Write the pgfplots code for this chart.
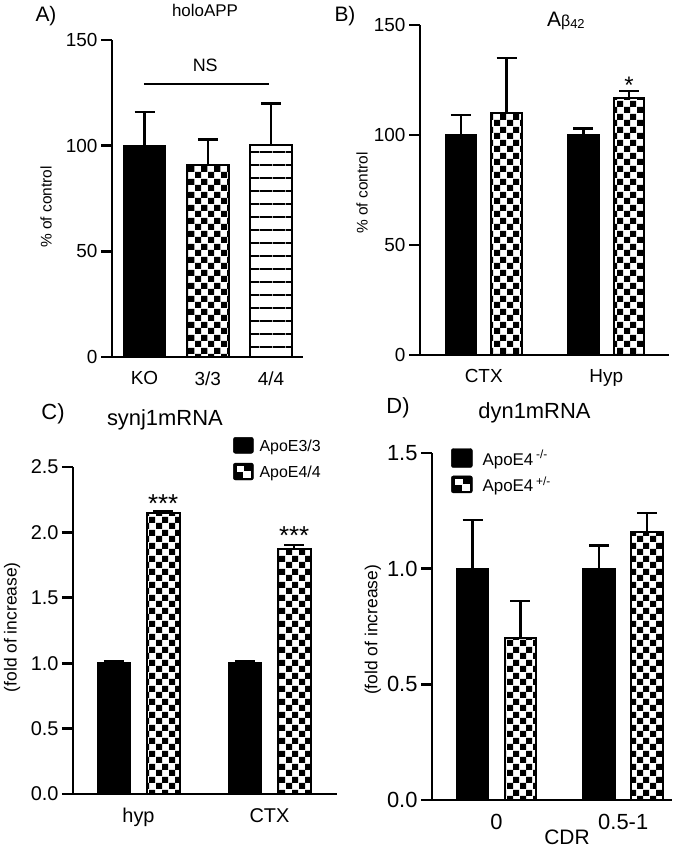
\documentclass[border=0pt]{standalone}
\usepackage{pgfplots}
\pgfplotsset{compat=1.18}
\usepackage{fontspec}
\setmainfont{Liberation Sans}
\usetikzlibrary{patterns}

\pgfdeclarepatternformonly{chkpat}{\pgfpointorigin}{\pgfqpoint{13bp}{13bp}}{\pgfqpoint{13bp}{13bp}}{%
  \pgfpathrectangle{\pgfpointorigin}{\pgfqpoint{6.5bp}{6.5bp}}%
  \pgfpathrectangle{\pgfqpoint{6.5bp}{6.5bp}}{\pgfqpoint{6.5bp}{6.5bp}}%
  \pgfusepath{fill}}
\pgfdeclarepatternformonly{hlnpat}{\pgfqpoint{0bp}{-1bp}}{\pgfqpoint{13bp}{12bp}}{\pgfqpoint{13bp}{13bp}}{%
  \pgfsetlinewidth{1.8bp}%
  \pgfpathmoveto{\pgfqpoint{0bp}{0bp}}\pgfpathlineto{\pgfqpoint{13bp}{0bp}}\pgfusepath{stroke}}

\pgfplotsset{
  panel/.style={
    scale only axis, anchor=south west,
    axis lines*=left,
    axis line style={line width=2.8bp, black},
    ymin=0, clip=false,
    tick align=outside,
    major tick length=11bp,
    ytick style={line width=2.8bp, black},
    xtick style={draw=none},
    ybar,
    /pgf/number format/assume math mode=true,
    ylabel style={anchor=center},
    title style={anchor=base},
  },
  errs/.style={/pgfplots/error bars/y dir=plus, /pgfplots/error bars/y explicit,
    /pgfplots/error bars/error bar style={line width=2.4bp, black},
    /pgfplots/error bars/error mark options={rotate=90, line width=2.4bp, mark size=10bp, black}},
  blkbar/.style={draw=black, fill=black, line width=2bp, errs},
  chkbar/.style={draw=black, line width=2bp, pattern=chkpat, pattern color=black, errs},
  hlnbar/.style={draw=black, line width=2bp, pattern=hlnpat, pattern color=black, errs},
}

\begin{document}
\begin{tikzpicture}
\useasboundingbox (0bp,0bp) rectangle (674bp,-854bp);

% ---------- A ----------
\begin{axis}[panel,
  at={(112bp,-357bp)}, width=191bp, height=317bp,
  xmin=-0.514, xmax=2.506, ymax=150, ytick={0,50,100,150},
  xtick={0,1,2}, xticklabels={KO,3/3,4/4}, bar width=0.66,
  tick label style={font=\fontsize{19}{19}\selectfont},
  title={holoAPP},
  title style={at={(axis description cs:0.487,1.054)}, font=\fontsize{17}{17}\selectfont},
]
\addplot[blkbar, bar shift=0] coordinates {(0,100) +- (0,16)};
\addplot[chkbar, bar shift=0] coordinates {(1,91) +- (0,12)};
\addplot[hlnbar, bar shift=0] coordinates {(2,100.5) +- (0,19.5)};
\draw[line width=2.4bp] (axis cs:-0.01,129.2) -- (axis cs:1.975,129.2);
\node[font=\fontsize{18}{18}\selectfont] at (axis cs:0.96,138.2) {NS};
\end{axis}
\node[rotate=90, font=\fontsize{15.5}{15.5}\selectfont] at (46bp,-207bp) {\% of control};

% ---------- B ----------
\begin{axis}[panel,
  at={(420bp,-355bp)}, width=249bp, height=330bp,
  xmin=-0.52, xmax=1.512, ymax=150, ytick={0,50,100,150},
  xtick={0,1}, xticklabels={CTX,Hyp}, bar width=0.25,
  tick label style={font=\fontsize{19}{19}\selectfont},
  title={A{\fontsize{16}{16}\selectfont β}\raisebox{-2bp}{\fontsize{13}{13}\selectfont 42}},
  title style={at={(axis description cs:0.586,0.976)}, font=\fontsize{21}{21}\selectfont},
]
\addplot[blkbar, bar shift=-0.186] coordinates {(0,100) +- (0,9) (1,100) +- (0,3)};
\addplot[chkbar, bar shift=0.186] coordinates {(0,110) +- (0,25) (1,117) +- (0,3)};
\node[font=\fontsize{24}{24}\selectfont, anchor=base] at (axis cs:1.186,119) {*};
\end{axis}
\node[rotate=90, font=\fontsize{15.5}{15.5}\selectfont] at (362bp,-193bp) {\% of control};

% ---------- C ----------
\begin{axis}[panel,
  at={(73bp,-794bp)}, width=264bp, height=327bp,
  xmin=-0.5, xmax=1.515, ymax=2.5, ytick={0,0.5,1,1.5,2,2.5},
  yticklabel style={/pgf/number format/.cd, fixed, fixed zerofill, precision=1},
  xtick={0,1}, xticklabels={hyp,CTX}, bar width=0.25,
  tick label style={font=\fontsize{20}{20}\selectfont},
  ylabel={(fold of increase)},
  ylabel style={at={(axis description cs:-0.231,0.51)}, font=\fontsize{17.5}{17.5}\selectfont},
  title={synj1mRNA},
  title style={at={(axis description cs:0.348,1.110)}, font=\fontsize{22}{22}\selectfont},
  legend style={at={(axis description cs:0.606,1.092)}, anchor=north west, draw=none, fill=none,
    inner sep=0pt, font=\fontsize{16}{16}\selectfont, row sep=8bp,
    /tikz/every odd column/.append style={column sep=4bp}},
  legend cell align=left,
]
\addlegendimage{legend image code/.code={\fill[black, rounded corners=2bp] (0bp,-7bp) rectangle (20bp,9bp);}}
\addlegendentry{ApoE3/3}
\addlegendimage{legend image code/.code={\fill[black, rounded corners=2bp] (0bp,-8bp) rectangle (20bp,9bp);
  \fill[white] (3.5bp,0.5bp) rectangle (10bp,6bp); \fill[white] (10bp,-5bp) rectangle (16.5bp,0.5bp);}}
\addlegendentry{ApoE4/4}
\addplot[blkbar, bar shift=-0.188, forget plot] coordinates {(0,1.0) +- (0,0.015) (1,1.0) +- (0,0.015)};
\addplot[chkbar, bar shift=0.188, forget plot] coordinates {(0,2.15) +- (0,0.015) (1,1.87) +- (0,0.035)};
\node[font=\fontsize{26}{26}\selectfont, anchor=base] at (axis cs:0.188,2.155) {***};
\node[font=\fontsize{26}{26}\selectfont, anchor=base] at (axis cs:1.188,1.905) {***};
\end{axis}

% ---------- D ----------
\begin{axis}[panel,
  at={(432bp,-800bp)}, width=240bp, height=347bp,
  xmin=-0.509, xmax=1.385, ymax=1.5, ytick={0,0.5,1,1.5},
  yticklabel style={/pgf/number format/.cd, fixed, fixed zerofill, precision=1},
  xtick={0,1}, xticklabels={0,0.5-1}, bar width=0.25,
  tick label style={font=\fontsize{22}{22}\selectfont},
  ylabel={(fold of increase)},
  ylabel style={at={(axis description cs:-0.246,0.49)}, font=\fontsize{17.5}{17.5}\selectfont},
  xlabel={CDR},
  xlabel style={at={(axis description cs:0.5625,-0.107)}, anchor=center, font=\fontsize{21}{21}\selectfont},
  title={dyn1mRNA},
  title style={at={(axis description cs:0.427,1.0836)}, font=\fontsize{22}{22}\selectfont},
  legend style={at={(axis description cs:0.079,1.014)}, anchor=north west, draw=none, fill=none,
    inner sep=0pt, font=\fontsize{17}{17}\selectfont, row sep=6bp,
    /tikz/every odd column/.append style={column sep=8bp}},
  legend cell align=left,
]
\addlegendimage{legend image code/.code={\fill[black, rounded corners=2bp] (0bp,-9bp) rectangle (21bp,10bp);}}
\addlegendentry{ApoE4\,\textsuperscript{-/-}}
\addlegendimage{legend image code/.code={\fill[black, rounded corners=2bp] (0bp,-8bp) rectangle (21bp,9bp);
  \fill[white] (3.5bp,0.5bp) rectangle (10.5bp,6bp); \fill[white] (10.5bp,-5bp) rectangle (17.5bp,0.5bp);}}
\addlegendentry{ApoE4\,\textsuperscript{+/-}}
\addplot[blkbar, bar shift=-0.189, forget plot] coordinates {(0,1.0) +- (0,0.21) (1,1.0) +- (0,0.10)};
\addplot[chkbar, bar shift=0.189, forget plot] coordinates {(0,0.70) +- (0,0.16) (1,1.16) +- (0,0.08)};
\end{axis}

% panel letters
\node[font=\fontsize{21}{21}\selectfont] at (46bp,-16bp) {A)};
\node[font=\fontsize{21}{21}\selectfont] at (345bp,-16bp) {B)};
\node[font=\fontsize{22}{22}\selectfont] at (53bp,-414bp) {C)};
\node[font=\fontsize{22}{22}\selectfont] at (398bp,-408bp) {D)};
\end{tikzpicture}
\end{document}
